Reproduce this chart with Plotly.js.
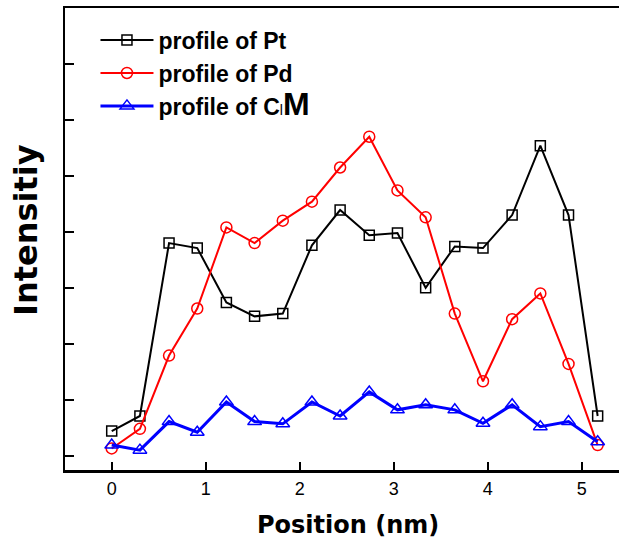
<!DOCTYPE html>
<html>
<head>
<meta charset="utf-8">
<script src="https://cdn.plot.ly/plotly-3.0.1.min.js"></script>
<style>html,body{margin:0;padding:0;background:#fff;overflow:hidden;}</style>
</head>
<body>
<div id="chart" style="width:619px;height:543px;"></div>
<script>
// Position (nm)
var positionNm = [0, 0.30, 0.61, 0.91, 1.22, 1.52, 1.82, 2.13, 2.43, 2.74, 3.04, 3.34, 3.65, 3.95, 4.26, 4.56, 4.86, 5.17];
// Intensity (arbitrary units, one unit per y tick)
var profilePt = [0.44, 0.71, 3.80, 3.71, 2.74, 2.49, 2.54, 3.76, 4.39, 3.94, 3.98, 3.00, 3.74, 3.71, 4.30, 5.54, 4.30, 0.71];
var profilePd = [0.13, 0.48, 1.79, 2.63, 4.08, 3.80, 4.20, 4.54, 5.15, 5.70, 4.74, 4.26, 2.54, 1.33, 2.44, 2.90, 1.64, 0.19];
var profileCl = [0.19, 0.10, 0.61, 0.42, 0.96, 0.61, 0.57, 0.96, 0.71, 1.14, 0.82, 0.91, 0.82, 0.58, 0.91, 0.52, 0.61, 0.25];
var seriesNames = ['profile of Pt', 'profile of Pd',
  "profile of C<span style='font-weight:normal;font-size:14px'>l</span><span style='font-size:32px'>M</span>"];
var xTitle = 'Position (nm)';
var yTitle = 'Intensitiy';
var xTickVals = [0, 1, 2, 3, 4, 5];
var xTickText = ['0', '1', '2', '3', '4', '5'];
var yTickVals = [0, 1, 2, 3, 4, 5, 6, 7, 8];

var traces = [
  {x: positionNm, y: profilePt, name: seriesNames[0], type: 'scatter', mode: 'lines+markers',
   line: {color: '#000000', width: 2},
   marker: {symbol: 'square-open', size: 10, color: '#000000', line: {width: 1.5}}},
  {x: positionNm, y: profilePd, name: seriesNames[1], type: 'scatter', mode: 'lines+markers',
   line: {color: '#ff0000', width: 2},
   marker: {symbol: 'circle-open', size: 11, color: '#ff0000', line: {width: 1.5}}},
  {x: positionNm, y: profileCl, name: seriesNames[2], type: 'scatter', mode: 'lines+markers',
   line: {color: '#0000ff', width: 3},
   marker: {symbol: 'triangle-up-open', size: 12, color: '#0000ff', line: {width: 1.5}}}
];

var titleFont = {family: 'DejaVu Sans, sans-serif', color: '#000000', weight: 'bold'};

var layout = {
  width: 619, height: 543,
  margin: {l: 65, r: 0, t: 8, b: 73, pad: 0},
  paper_bgcolor: '#ffffff', plot_bgcolor: '#ffffff',
  showlegend: true,
  legend: {x: 0.055, y: 0.977, xanchor: 'left', yanchor: 'top',
    bgcolor: 'rgba(0,0,0,0)', borderwidth: 0, itemwidth: 53,
    font: {family: 'Liberation Sans, Arial, sans-serif', size: 23, color: '#000000', weight: 'bold'},
    tracegroupgap: 0},
  xaxis: {
    range: [-0.497, 5.397], showgrid: false, zeroline: false,
    showline: true, linecolor: '#000000', linewidth: 2.5, mirror: true,
    ticks: 'inside', ticklen: 8, tickwidth: 2, tickcolor: '#000000',
    tickvals: xTickVals, ticktext: xTickText,
    tickfont: {family: 'Liberation Sans, Arial, sans-serif', size: 18, color: '#000000'},
    ticklabelstandoff: 1
  },
  yaxis: {
    range: [-0.255, 8], showgrid: false, zeroline: false,
    showline: true, linecolor: '#000000', linewidth: 2.5, mirror: false,
    ticks: 'inside', ticklen: 9, tickwidth: 2, tickcolor: '#000000',
    tickvals: yTickVals, showticklabels: false
  },
  annotations: [
    {text: xTitle, xref: 'paper', yref: 'paper', x: 0.51, y: -0.118,
     xanchor: 'center', yanchor: 'middle', showarrow: false,
     font: Object.assign({size: 24}, titleFont)},
    {text: yTitle, xref: 'paper', yref: 'paper', x: -0.07, y: 0.52,
     xanchor: 'center', yanchor: 'middle', showarrow: false, textangle: -90,
     font: Object.assign({size: 32}, titleFont)}
  ]
};

Plotly.newPlot('chart', traces, layout, {staticPlot: true, displayModeBar: false});
</script>
</body>
</html>
